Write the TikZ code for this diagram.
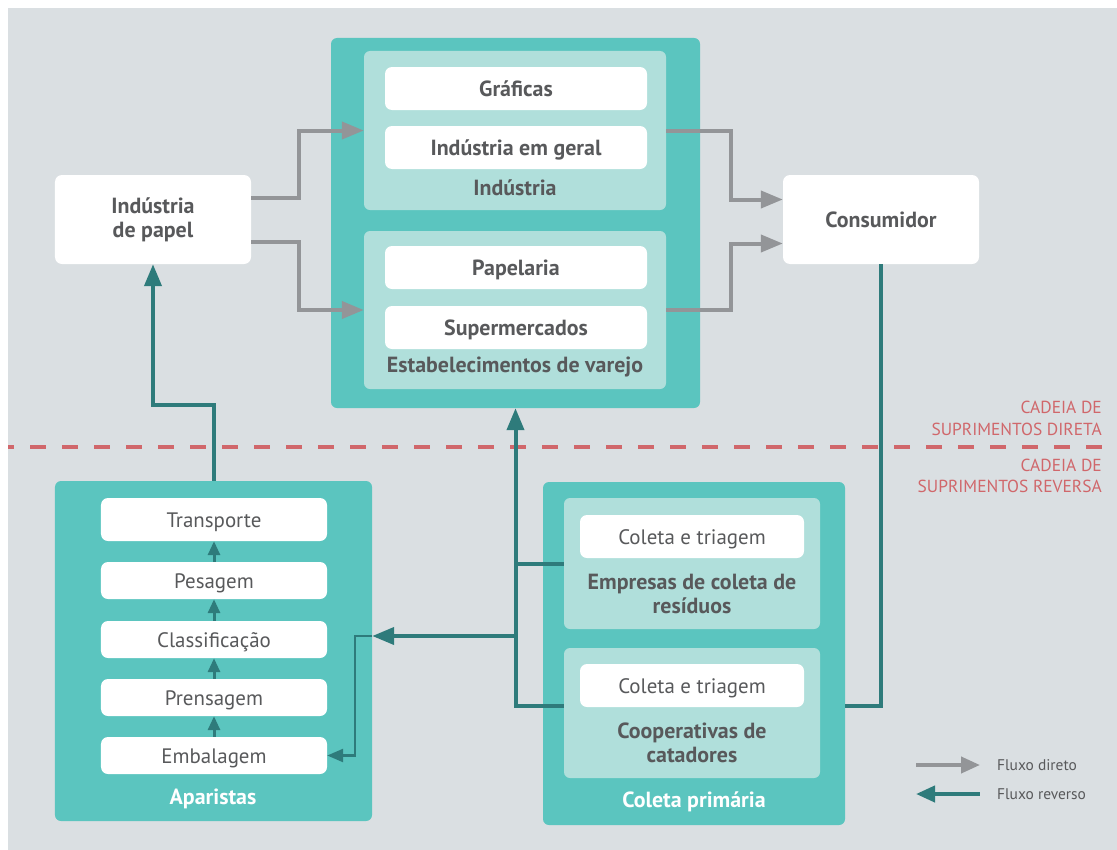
\documentclass[tikz,border=0pt]{standalone}
\usepackage{fontspec}
\setmainfont{PT Sans}
\usetikzlibrary{arrows.meta,positioning}
\definecolor{bgpanel}{HTML}{DADFE2}
\definecolor{tealA}{HTML}{5BC5BF}
\definecolor{tealB}{HTML}{B0DFDB}
\definecolor{tealC}{HTML}{2E7B7B}
\definecolor{flowgray}{HTML}{939598}
\definecolor{txtgray}{HTML}{58595B}
\definecolor{chainred}{HTML}{D0676B}

\begin{document}
\begin{tikzpicture}[x=1bp,y=-1bp,text=txtgray,
 font=\fontsize{21}{24}\selectfont,
 panel/.style={fill=tealA,rounded corners=6bp,inner sep=0pt},
 group/.style={fill=tealB,rounded corners=6bp,inner sep=0pt},
 item/.style={fill=white,rounded corners=7bp,inner sep=0pt,minimum width=262bp,
  minimum height=43bp,text height=20bp,text depth=4bp,
  font=\bfseries\fontsize{22}{24}\selectfont},
 endbox/.style={fill=white,rounded corners=7bp,inner sep=0pt,minimum width=196bp,
  minimum height=89bp,align=center,font=\bfseries\fontsize{22}{24}\selectfont},
 stage/.style={fill=white,rounded corners=7bp,inner sep=0pt,minimum width=226bp,
  minimum height=37bp,text height=19bp,text depth=4bp},
 grouplabel/.style={align=center,font=\bfseries\fontsize{22}{24}\selectfont},
 panellabel/.style={text=white,font=\bfseries\fontsize{22}{24}\selectfont},
 chainlabel/.style={text=chainred,align=right,anchor=east,inner sep=0pt,
  font=\fontsize{17.5}{21.5}\selectfont},
 legend/.style={anchor=west,inner sep=0pt,font=\fontsize{15.5}{17}\selectfont},
 dir/.style={draw=flowgray,line width=4bp,-{Triangle[length=22bp,width=17bp]}},
 rev/.style={draw=tealC,line width=4bp,-{Triangle[length=22bp,width=17bp]}},
 revline/.style={draw=tealC,line width=4bp},
 revthin/.style={draw=tealC,line width=2.5bp,-{Triangle[length=16bp,width=13bp]}},
 revsmall/.style={draw=tealC,line width=3bp,-{Triangle[length=14bp,width=12bp]}}]
\useasboundingbox (0,0) rectangle (1117,850);
\fill[bgpanel] (8,8) rectangle (1117,850);

% cadeia direta
\node[panel,minimum width=369bp,minimum height=370bp] (top) at (515.5,223) {};
\node[group,minimum width=302bp,minimum height=159bp] (indu) at (515,130.5) {};
\node[item] (graf) at (516,88.5) {Gráficas};
\node[item] (geral) at (516,147.5) {Indústria em geral};
\node[grouplabel] (indulbl) at (515,188) {Indústria};
\node[group,minimum width=302bp,minimum height=158bp] (varejo) at (515,310) {};
\node[item] (papl) at (516,267.5) {Papelaria};
\node[item] (super) at (516,327.5) {Supermercados};
\node[grouplabel] (varejolbl) at (515,367) {Estabelecimentos de varejo};

\node[endbox] (papel) at (153,219.5) {Indústria\\de papel};
\node[endbox] (cons) at (881,219.5) {Consumidor};

% cadeia reversa
\node[panel,minimum width=317bp,minimum height=340bp] (apar) at (213.5,651) {};
\node[stage,minimum height=43bp] (transp) at (214,519.5) {Transporte};
\node[stage] (pesa) at (214,580.5) {Pesagem};
\node[stage] (class) at (214,639.5) {Classificação};
\node[stage] (prens) at (214,697.5) {Prensagem};
\node[stage] (emb) at (214,755.5) {Embalagem};
\node[panellabel] (aparlbl) at (213,799) {Aparistas};

\node[panel,minimum width=302bp,minimum height=343bp] (coleta) at (694,653.5) {};
\node[group,minimum width=256bp,minimum height=131bp] (emp) at (692,563.5) {};
\node[stage,minimum width=224bp,minimum height=43bp] (ct1) at (692,536.5) {Coleta e triagem};
\node[grouplabel] (emplbl) at (692,594) {Empresas de coleta de\\resíduos};
\node[group,minimum width=256bp,minimum height=130bp] (coop) at (692,713) {};
\node[stage,minimum width=224bp,minimum height=43bp] (ct2) at (692,685.5) {Coleta e triagem};
\node[grouplabel] (cooplbl) at (692,743) {Cooperativas de\\catadores};
\node[panellabel] (coletalbl) at (694,802) {Coleta primária};

% divisa
\draw[chainred,line width=4bp,dash pattern=on 16bp off 16bp,dash phase=10bp] (8,447) -- (1117,447);
\node[chainlabel] (direta) at (1102,418.5) {CADEIA DE\\SUPRIMENTOS DIRETA};
\node[chainlabel] (reversa) at (1102,476) {CADEIA DE\\SUPRIMENTOS REVERSA};

% fluxo direto
\draw[dir] ([yshift=22bp]papel.east) -- ++(48,0) |- (indu.west);
\draw[dir] ([yshift=-22bp]papel.east) -- ++(48,0) |- (varejo.west);
\draw[dir] (indu.east) -- ++(65,0) |- ([yshift=20bp]cons.west);
\draw[dir] (varejo.east) -- ++(65,0) |- ([yshift=-24bp]cons.west);

% fluxo reverso
\foreach \a/\b in {emb/prens,prens/class,class/pesa,pesa/transp}
 \draw[revsmall] (\a.north) -- (\b.south);
\draw[rev] (apar.north) -- ++(0,-76) -| (papel.south);
\draw[rev] ([yshift=7bp]coop.west) -| (top.south);
\draw[revline] (emp.west) -- (emp.west -| top.south);
\coordinate (split) at (515.5,636);
\draw[rev] (split) -- (split -| apar.east);
\draw[revthin] (split -| apar.east) -- ++(-17,0) |- (emb.east);
\draw[revline] (cons.south) |- ([yshift=7bp]coop.west -| coleta.east);

% legenda
\node[legend] (ldir) at (997,765) {Fluxo direto};
\node[legend] (lrev) at (997,794) {Fluxo reverso};
\coordinate (d0) at (916,765);
\coordinate (r0) at (916,794);
\draw[dir,-{Triangle[length=19bp,width=16bp]}] (d0) -- ([xshift=-17bp]ldir.west);
\draw[rev,{Triangle[length=19bp,width=16bp]}-] (r0) -- ([xshift=-17bp]lrev.west);
\end{tikzpicture}
\end{document}
